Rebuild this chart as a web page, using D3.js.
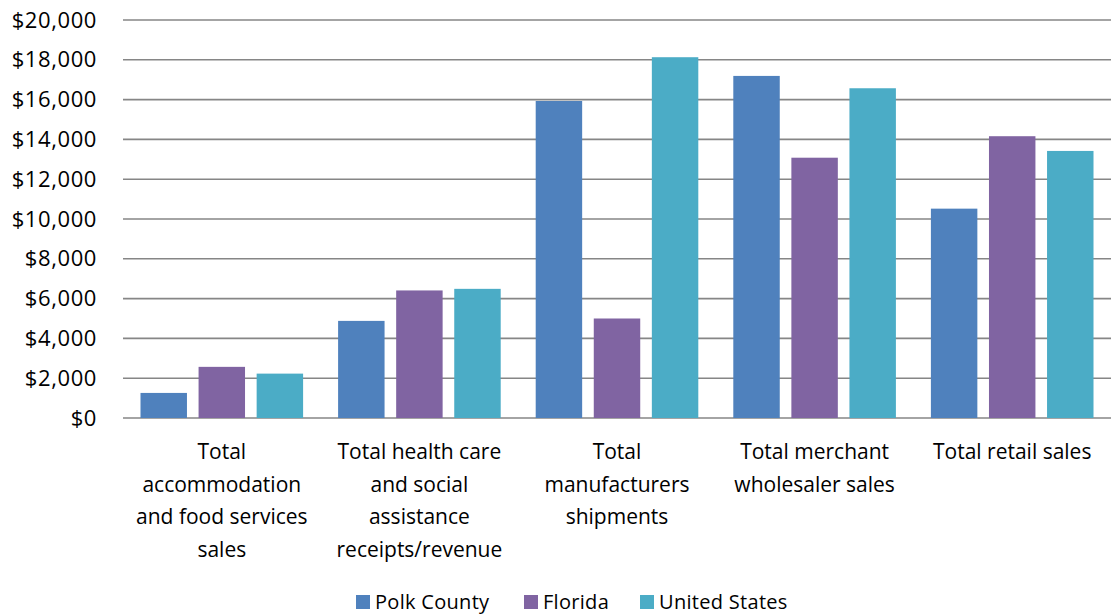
<!DOCTYPE html>
<html>
<head>
<meta charset="utf-8">
<script src="https://cdn.jsdelivr.net/npm/d3@7"></script>
<style>
  body { margin: 0; background: #fff; }
  svg text { font-family: "Open Sans", "Liberation Sans", sans-serif; fill: #000; }
</style>
</head>
<body>
<div id="chart"></div>
<script>
const categories = [
    ["Total", "accommodation", "and food services", "sales"],
    ["Total health care", "and social", "assistance", "receipts/revenue"],
    ["Total", "manufacturers", "shipments"],
    ["Total merchant", "wholesaler sales"],
    ["Total retail sales"]
];
const seriesNames = ["Polk County", "Florida", "United States"];
const polkCounty = [1260, 4880, 15930, 17190, 10520];
const florida = [2570, 6410, 5000, 13080, 14160];
const unitedStates = [2230, 6490, 18130, 16570, 13420];
const yTicks = [0, 2000, 4000, 6000, 8000, 10000, 12000, 14000, 16000, 18000, 20000];
const colors = ["#4f81bd", "#8064a2", "#4bacc6"];

const seriesValues = [polkCounty, florida, unitedStates];
const data = categories.map((c, i) => ({
    key: i,
    lines: c,
    values: seriesNames.map((s, j) => ({series: s, value: seriesValues[j][i]}))
}));

const margin = {top: 20, right: 0, bottom: 197, left: 123};
const width = 1111 - margin.left - margin.right;
const height = 615 - margin.top - margin.bottom;

const svg = d3.select("#chart")
    .append("svg")
    .attr("width", 1111)
    .attr("height", 615)
  .append("g")
    .attr("transform", `translate(${margin.left},${margin.top})`);

const x0 = d3.scaleBand()
    .domain(data.map(d => d.key))
    .range([0, width])
    .padding(0);

const x1 = d3.scaleBand()
    .domain(seriesNames)
    .range([17.5, x0.bandwidth() - 17.5])
    .paddingInner(0.2);

const y = d3.scaleLinear()
    .domain([0, 20000])
    .range([height, 0]);

// gridlines
svg.append("g")
    .selectAll("line")
    .data(yTicks)
    .enter()
    .append("line")
    .attr("x1", 0)
    .attr("x2", width)
    .attr("y1", d => y(d))
    .attr("y2", d => y(d))
    .attr("stroke", "#868686")
    .attr("stroke-width", 1.6);

// y labels
const yAxis = svg.append("g")
    .call(d3.axisLeft(y).tickValues(yTicks).tickSize(0).tickPadding(26)
        .tickFormat(d => "$" + d3.format(",")(d)));
yAxis.select(".domain").remove();
yAxis.selectAll("text").style("font-size", "22px").style("letter-spacing", "0.6px");

const groups = svg.selectAll(".grp")
    .data(data)
    .enter()
    .append("g")
    .attr("class", "grp")
    .attr("transform", d => `translate(${x0(d.key)},0)`);

groups.selectAll("rect")
    .data(d => d.values)
    .enter()
    .append("rect")
    .attr("x", d => x1(d.series))
    .attr("width", x1.bandwidth())
    .attr("y", d => y(d.value))
    .attr("height", d => y(0) - y(d.value))
    .attr("fill", (d, i) => colors[i]);

// category labels
groups.append("text")
    .attr("text-anchor", "middle")
    .style("font-size", "21px")
    .selectAll("tspan")
    .data(d => d.lines)
    .enter()
    .append("tspan")
    .attr("x", x0.bandwidth() / 2)
    .attr("y", (d, i) => height + 41 + i * 32.7)
    .text(d => d);

// legend
const legend = d3.select("svg").append("g")
    .attr("transform", "translate(0,602)");
const legendX = [356, 524, 640];
const items = legend.selectAll("g")
    .data(seriesNames)
    .enter()
    .append("g")
    .attr("transform", (d, i) => `translate(${legendX[i]},0)`);
items.append("rect")
    .attr("x", 0)
    .attr("y", -7)
    .attr("width", 14)
    .attr("height", 14)
    .attr("fill", (d, i) => colors[i]);
items.append("text")
    .attr("x", 19)
    .attr("y", 7)
    .style("font-size", "20px")
    .style("letter-spacing", "0.3px")
    .text(d => d);
</script>
</body>
</html>
